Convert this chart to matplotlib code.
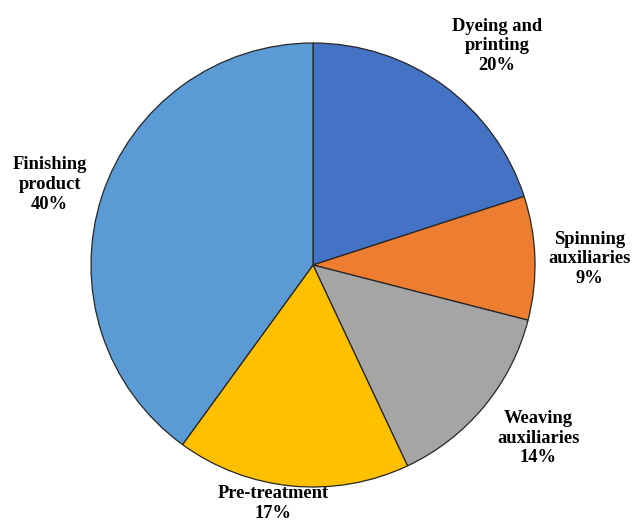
import matplotlib.pyplot as plt
import numpy as np

# dati della torta
categorie = ['Dyeing and\nprinting', 'Spinning\nauxiliaries', 'Weaving\nauxiliaries',
             'Pre-treatment', 'Finishing\nproduct']
valori = [20, 9, 14, 17, 40]
colori = ['#4472C4', '#ED7D31', '#A5A5A5', '#FFC000', '#5B9BD5']

# distanza delle etichette dal centro (in raggi) e piccolo scostamento angolare
distanze = [1.29, 1.245, 1.28, 1.09, 1.24]
scarti = [-4, -0.5, 2, -4, 1]

W, H = 633, 522
fig = plt.figure(figsize=(W/100, H/100), dpi=100)
cx, cy, r = 313, 522-265, 222
ax = fig.add_axes([(cx-r)/W, (cy-r)/H, 2*r/W, 2*r/H])

wedges, _ = ax.pie(valori, colors=colori, startangle=90, counterclock=False,
                   wedgeprops=dict(edgecolor='#262626', linewidth=0.9))
ax.set_xlim(-1, 1)
ax.set_ylim(-1, 1)
ax.set_aspect('equal')

for w, cat, v, d, s in zip(wedges, categorie, valori, distanze, scarti):
    ang = np.deg2rad((w.theta1 + w.theta2)/2 + s)
    ax.text(d*np.cos(ang), d*np.sin(ang), '%s\n%d%%' % (cat, v),
            ha='center', va='center', fontsize=13.3, fontweight='bold',
            family='Liberation Serif', linespacing=1.2, clip_on=False)

fig.savefig('out.png', dpi=100)
